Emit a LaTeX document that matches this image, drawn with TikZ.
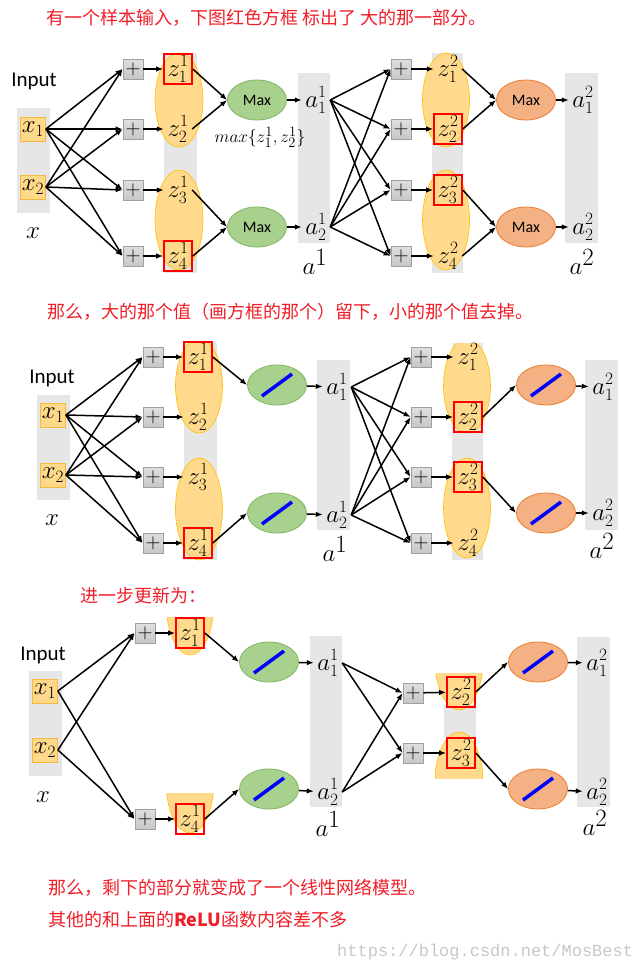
\documentclass[tikz,border=0pt]{standalone}
\usepackage{fontspec}
\setsansfont{Carlito}
\newfontfamily\cjk{Noto Sans CJK SC}
\newfontfamily\wmfont{Liberation Mono}
\usetikzlibrary{shapes.geometric,arrows.meta}
\definecolor{boxfill}{RGB}{255,217,138}
\definecolor{boxline}{RGB}{245,185,66}
\definecolor{grpfill}{RGB}{255,217,140}
\definecolor{grpline}{RGB}{255,192,0}
\definecolor{bargray}{RGB}{230,230,230}
\definecolor{plusfill}{RGB}{200,200,200}
\definecolor{plusline}{RGB}{160,160,160}
\definecolor{greenfill}{RGB}{169,209,142}
\definecolor{greenline}{RGB}{130,180,100}
\definecolor{orfill}{RGB}{244,177,131}
\definecolor{orline}{RGB}{237,125,49}
\definecolor{headred}{RGB}{240,30,40}
\definecolor{wmgray}{RGB}{200,200,200}
\tikzset{
  arr/.style={-{Latex[length=7pt,width=5.5pt]},line width=1.5pt,black},
  inbox/.style={rectangle,fill=boxfill,draw=boxline,line width=0.8pt,minimum width=25,minimum height=24,inner sep=0pt,font=\fontsize{24}{24}\selectfont},
  plusbox/.style={rectangle,top color=plusfill!60,bottom color=plusfill,draw=plusline,line width=0.8pt,minimum size=20,inner sep=0pt,font=\fontsize{22}{22}\selectfont},
  zlab/.style={minimum width=28,minimum height=30,inner sep=0pt,font=\fontsize{25}{25}\selectfont},
  redbox/.style={zlab,draw=red,line width=1.6pt},
  grp/.style={ellipse,fill=grpfill,draw=grpline,line width=0.6pt,inner sep=0pt},
  bar/.style={fill=bargray},
  maxg/.style={ellipse,fill=greenfill,draw=greenline,line width=0.8pt,minimum width=59,minimum height=40,inner sep=0pt,font=\sffamily\fontsize{16}{16}\selectfont},
  maxo/.style={maxg,fill=orfill,draw=orline},
  relu/.style={path picture={\draw[blue,line width=3.5pt]([shift={(-15pt,-11pt)}]path picture bounding box.center)--([shift={(15pt,11pt)}]path picture bounding box.center);}},
  head/.style={anchor=west,inner sep=0pt,text=headred,font=\cjk\fontsize{18}{18}\selectfont},
  inlbl/.style={font=\sffamily\fontsize{21}{21}\selectfont},
  xlbl/.style={font=\fontsize{30}{30}\selectfont},
  albl/.style={font=\fontsize{36}{36}\selectfont}
}
\begin{document}
\begin{tikzpicture}[x=1pt,y=-1pt]
  \path[fill=white,use as bounding box](0,0) rectangle (640,972);
  % headings
  \node[head](h1) at (46,18){有一个样本输入，下图红色方框 标出了 大的那一部分。};
  \node[head](h2) at (47,312){那么，大的那个值（画方框的那个）留下，小的那个值去掉。};
  \node[head](h3) at (80,596){进一步更新为：};
  \node[head](h4) at (48,888){那么，剩下的部分就变成了一个线性网络模型。};
  \node[head](h5) at (48,920){其他的和上面的\textbf{ReLU}函数内容差不多};
  \node[anchor=west,inner sep=0pt,text=wmgray,font=\wmfont\fontsize{17}{17}\selectfont](wm) at (337,952){https://blog.csdn.net/MosBest};

  % ---- panel 1 ----
  \fill[bar](17,108) rectangle (50,213);
  \fill[bar](164,53) rectangle (197,273);
  \fill[bar](298,73) rectangle (330,243);
  \fill[bar](432,53) rectangle (463,273);
  \fill[bar](565,73) rectangle (598,243);
  \node[grp,minimum width=48,minimum height=94](ag1) at (179,100){};
  \node[grp,minimum width=48,minimum height=100](ag2) at (179,220){};
  \node[grp,minimum width=47,minimum height=94](ag3) at (446,100){};
  \node[grp,minimum width=47,minimum height=100](ag4) at (446,220){};
  \node[inlbl](ain) at (34,81){Input};
  \node[inbox](ax1) at (33,129){$x_1$};
  \node[inbox](ax2) at (33,187){$x_2$};
  \node[xlbl](axl) at (33,233){$x$};
  \node[plusbox](ap1) at (133,69){$+$};
  \node[plusbox](ap2) at (133,129){$+$};
  \node[plusbox](ap3) at (133,190){$+$};
  \node[plusbox](ap4) at (133,256){$+$};
  \node[redbox](az1) at (178,69){$z^1_1$};
  \node[zlab](az2) at (178,129){$z^1_2$};
  \node[zlab](az3) at (178,190){$z^1_3$};
  \node[redbox](az4) at (178,256){$z^1_4$};
  \node[maxg](am1) at (257,100){Max};
  \node[maxg](am2) at (257,227){Max};
  \node[font=\fontsize{19}{19}\selectfont](amax) at (260,137){$max\{z^1_1,z^1_2\}$};
  \node[zlab](aa1) at (316,100){$a^1_1$};
  \node[zlab](aa2) at (316,227){$a^1_2$};
  \node[albl](aal) at (315,262){$a^1$};
  \node[plusbox](ap5) at (401,69){$+$};
  \node[plusbox](ap6) at (401,129){$+$};
  \node[plusbox](ap7) at (401,190){$+$};
  \node[plusbox](ap8) at (401,256){$+$};
  \node[zlab](az5) at (448,69){$z^2_1$};
  \node[redbox](az6) at (448,129){$z^2_2$};
  \node[redbox](az7) at (448,190){$z^2_3$};
  \node[zlab](az8) at (448,256){$z^2_4$};
  \node[maxo](am3) at (526,100){Max};
  \node[maxo](am4) at (526,227){Max};
  \node[zlab](aa3) at (583,100){$a^2_1$};
  \node[zlab](aa4) at (583,227){$a^2_2$};
  \node[albl](aal2) at (582,262){$a^2$};
  \draw[arr](ax1.east)--(ap1.west); \draw[arr](ax1.east)--(ap2.west);
  \draw[arr](ax1.east)--(ap3.west); \draw[arr](ax1.east)--(ap4.west);
  \draw[arr](ax2.east)--(ap1.west); \draw[arr](ax2.east)--(ap2.west);
  \draw[arr](ax2.east)--(ap3.west); \draw[arr](ax2.east)--(ap4.west);
  \draw[arr](ap1)--(az1); \draw[arr](ap2)--(az2);
  \draw[arr](ap3)--(az3); \draw[arr](ap4)--(az4);
  \draw[arr](az1.east)--(am1.west); \draw[arr](az2.east)--(am1.west);
  \draw[arr](az3.east)--(am2.west); \draw[arr](az4.east)--(am2.west);
  \draw[arr](am1)--(aa1); \draw[arr](am2)--(aa2);
  \draw[arr](aa1.east)--(ap5.west); \draw[arr](aa1.east)--(ap6.west);
  \draw[arr](aa1.east)--(ap7.west); \draw[arr](aa1.east)--(ap8.west);
  \draw[arr](aa2.east)--(ap5.west); \draw[arr](aa2.east)--(ap6.west);
  \draw[arr](aa2.east)--(ap7.west); \draw[arr](aa2.east)--(ap8.west);
  \draw[arr](ap5)--(az5); \draw[arr](ap6)--(az6);
  \draw[arr](ap7)--(az7); \draw[arr](ap8)--(az8);
  \draw[arr](az5.east)--(am3.west); \draw[arr](az6.east)--(am3.west);
  \draw[arr](az7.east)--(am4.west); \draw[arr](az8.east)--(am4.west);
  \draw[arr](am3)--(aa3); \draw[arr](am4)--(aa4);

  % ---- panel 2 ----
  \fill[bar](37,395) rectangle (70,500);
  \fill[bar](184,343) rectangle (217,560);
  \fill[bar](317,360) rectangle (350,530);
  \fill[bar](452,343) rectangle (483,560);
  \fill[bar](585,360) rectangle (618,530);
  \begin{scope}
    \clip (150,343) rectangle (500,600);
    \node[grp,minimum width=47,minimum height=94](bg1) at (199,386){};
    \node[grp,minimum width=47,minimum height=102](bg2) at (199,509){};
    \node[grp,minimum width=47,minimum height=94](bg3) at (467,386){};
    \node[grp,minimum width=47,minimum height=100](bg4) at (467,508){};
  \end{scope}
  \node[inlbl](bin) at (52,378){Input};
  \node[inbox](bx1) at (53,415){$x_1$};
  \node[inbox](bx2) at (53,475){$x_2$};
  \node[xlbl](bxl) at (52,520){$x$};
  \node[plusbox](bp1) at (153,357){$+$};
  \node[plusbox](bp2) at (153,417){$+$};
  \node[plusbox](bp3) at (153,477){$+$};
  \node[plusbox](bp4) at (153,543){$+$};
  \node[redbox](bz1) at (198,357){$z^1_1$};
  \node[zlab](bz2) at (198,417){$z^1_2$};
  \node[zlab](bz3) at (198,477){$z^1_3$};
  \node[redbox](bz4) at (198,543){$z^1_4$};
  \node[maxg,relu](bm1) at (277,385){};
  \node[maxg,relu](bm2) at (277,513){};
  \node[zlab](ba1) at (337,387){$a^1_1$};
  \node[zlab](ba2) at (337,515){$a^1_2$};
  \node[albl](bal) at (335,549){$a^1$};
  \node[plusbox](bp5) at (421,357){$+$};
  \node[plusbox](bp6) at (421,417){$+$};
  \node[plusbox](bp7) at (421,477){$+$};
  \node[plusbox](bp8) at (421,543){$+$};
  \node[zlab](bz5) at (468,357){$z^2_1$};
  \node[redbox](bz6) at (468,417){$z^2_2$};
  \node[redbox](bz7) at (468,477){$z^2_3$};
  \node[zlab](bz8) at (468,543){$z^2_4$};
  \node[maxo,relu](bm3) at (546,385){};
  \node[maxo,relu](bm4) at (546,513){};
  \node[zlab](ba3) at (603,387){$a^2_1$};
  \node[zlab](ba4) at (603,513){$a^2_2$};
  \node[albl](bal2) at (602,546){$a^2$};
  \draw[arr](bx1.east)--(bp1.west); \draw[arr](bx1.east)--(bp2.west);
  \draw[arr](bx1.east)--(bp3.west); \draw[arr](bx1.east)--(bp4.west);
  \draw[arr](bx2.east)--(bp1.west); \draw[arr](bx2.east)--(bp2.west);
  \draw[arr](bx2.east)--(bp3.west); \draw[arr](bx2.east)--(bp4.west);
  \draw[arr](bp1)--(bz1); \draw[arr](bp2)--(bz2);
  \draw[arr](bp3)--(bz3); \draw[arr](bp4)--(bz4);
  \draw[arr](bz1.east)--(bm1.west); \draw[arr](bz4.east)--(bm2.west);
  \draw[arr](bm1)--(ba1); \draw[arr](bm2)--(ba2);
  \draw[arr](ba1.east)--(bp5.west); \draw[arr](ba1.east)--(bp6.west);
  \draw[arr](ba1.east)--(bp7.west); \draw[arr](ba1.east)--(bp8.west);
  \draw[arr](ba2.east)--(bp5.west); \draw[arr](ba2.east)--(bp6.west);
  \draw[arr](ba2.east)--(bp7.west); \draw[arr](ba2.east)--(bp8.west);
  \draw[arr](bp5)--(bz5); \draw[arr](bp6)--(bz6);
  \draw[arr](bp7)--(bz7); \draw[arr](bp8)--(bz8);
  \draw[arr](bz6.east)--(bm3.west); \draw[arr](bz7.east)--(bm4.west);
  \draw[arr](bm3)--(ba3); \draw[arr](bm4)--(ba4);

  % ---- panel 3 ----
  \fill[bar](29,671) rectangle (62,776);
  \fill[bar](310,636) rectangle (342,807);
  \fill[bar](444,705) rectangle (476,737);
  \fill[bar](577,637) rectangle (610,807);
  \begin{scope}
    \clip (160,617) rectangle (220,660);
    \node[grp,minimum width=47,minimum height=100](cg1) at (190,605){};
  \end{scope}
  \begin{scope}
    \clip (160,793) rectangle (220,840);
    \node[grp,minimum width=47,minimum height=96](cg2) at (190,785){};
  \end{scope}
  \begin{scope}
    \clip (430,673) rectangle (490,712);
    \node[grp,minimum width=48,minimum height=100](cg3) at (459,660){};
  \end{scope}
  \begin{scope}
    \clip (430,730) rectangle (490,778);
    \node[grp,minimum width=48,minimum height=100](cg4) at (459,782){};
  \end{scope}
  \node[inlbl](cin) at (43,655){Input};
  \node[inbox](cx1) at (45,691){$x_1$};
  \node[inbox](cx2) at (45,750){$x_2$};
  \node[xlbl](cxl) at (43,797){$x$};
  \node[plusbox](cp1) at (145,633){$+$};
  \node[plusbox](cp2) at (145,819){$+$};
  \node[redbox](cz1) at (190,633){$z^1_1$};
  \node[redbox](cz2) at (190,819){$z^1_4$};
  \node[maxg,relu](cm1) at (269,662){};
  \node[maxg,relu](cm2) at (269,789){};
  \node[zlab](ca1) at (328,663){$a^1_1$};
  \node[zlab](ca2) at (328,792){$a^1_2$};
  \node[albl](cal) at (328,824){$a^1$};
  \node[plusbox](cp3) at (413,693){$+$};
  \node[plusbox](cp4) at (413,753){$+$};
  \node[redbox](cz3) at (461,692){$z^2_2$};
  \node[redbox](cz4) at (461,753){$z^2_3$};
  \node[maxo,relu](cm3) at (538,662){};
  \node[maxo,relu](cm4) at (538,789){};
  \node[zlab](ca3) at (597,663){$a^2_1$};
  \node[zlab](ca4) at (597,792){$a^2_2$};
  \node[albl](cal2) at (595,823){$a^2$};
  \draw[arr](cx1.east)--(cp1.west); \draw[arr](cx1.east)--(cp2.west);
  \draw[arr](cx2.east)--(cp1.west); \draw[arr](cx2.east)--(cp2.west);
  \draw[arr](cp1)--(cz1); \draw[arr](cp2)--(cz2);
  \draw[arr](cz1.east)--(cm1.west); \draw[arr](cz2.east)--(cm2.west);
  \draw[arr](cm1)--(ca1); \draw[arr](cm2)--(ca2);
  \draw[arr](ca1.east)--(cp3.west); \draw[arr](ca1.east)--(cp4.west);
  \draw[arr](ca2.east)--(cp3.west); \draw[arr](ca2.east)--(cp4.west);
  \draw[arr](cp3)--(cz3); \draw[arr](cp4)--(cz4);
  \draw[arr](cz3.east)--(cm3.west); \draw[arr](cz4.east)--(cm4.west);
  \draw[arr](cm3)--(ca3); \draw[arr](cm4)--(ca4);
\end{tikzpicture}
\end{document}
